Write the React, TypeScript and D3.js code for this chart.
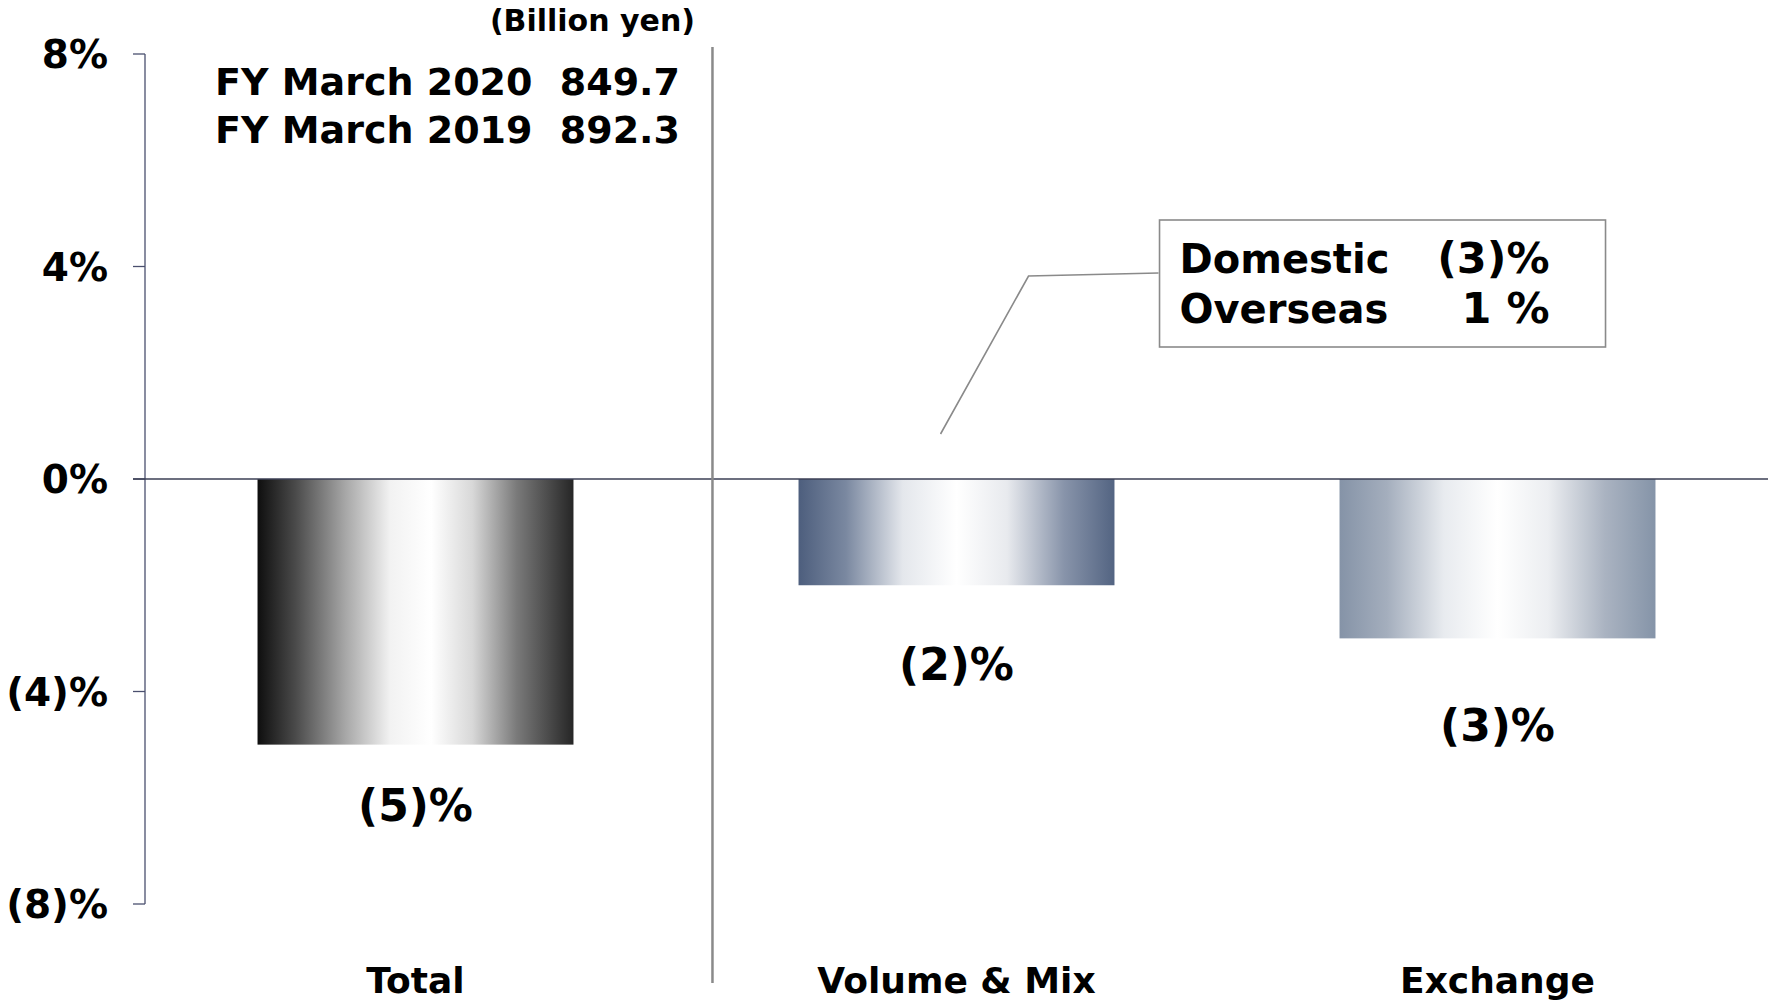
import React from "react";
import * as d3 from "d3";

const categories = ["Total", "Volume & Mix", "Exchange"];
const values = [-5, -2, -3];
const valueLabels = ["(5)%", "(2)%", "(3)%"];
const yTicks = [-8, -4, 0, 4, 8];
const headerLines = [
  ["FY March 2020", "849.7"],
  ["FY March 2019", "892.3"],
];
const unitLabel = "(Billion yen)";
const calloutRows = [
  ["Domestic", "(3)%"],
  ["Overseas", "1 %"],
];

const W = 1771;
const H = 1003;
const FONT = "'DejaVu Sans', Verdana, sans-serif";

const gradients = [
  { id: "gTotal", stops: [["0%", "#0e0e0e"], ["12%", "#4a4a4a"], ["28%", "#a8a8a8"], ["42%", "#f2f2f2"], ["55%", "#ffffff"], ["68%", "#d8d8d8"], ["82%", "#7a7a7a"], ["100%", "#262626"]] },
  { id: "gVol", stops: [["0%", "#4d5e7d"], ["15%", "#7a88a0"], ["33%", "#e4e7ec"], ["50%", "#ffffff"], ["66%", "#e8eaee"], ["84%", "#8894aa"], ["100%", "#536482"]] },
  { id: "gExc", stops: [["0%", "#8593a7"], ["15%", "#a4aebd"], ["33%", "#e8ebef"], ["50%", "#ffffff"], ["66%", "#eceef1"], ["84%", "#aab3c1"], ["100%", "#8594a8"]] },
];
const labelOffsets = [76, 95, 103];

export default function App() {
  const x = d3.scaleBand<string>().domain(categories).range([145, 1768]).paddingInner(0.416).paddingOuter(0.208);
  const y = d3.scaleLinear().domain([-8, 8]).range([904, 54]);
  const fmt = (v: number) => (v < 0 ? `(${-v})%` : `${v}%`);
  const sepX = (x("Total") as number) + x.bandwidth() + 139;
  const vx = (x("Volume & Mix") as number);
  const ex = (x("Exchange") as number);

  return (
    <svg width={W} height={H} style={{ position: "absolute", left: 0, top: 0, background: "#fff" }} fontFamily={FONT}>
      <defs>
        {gradients.map((g) => (
          <linearGradient key={g.id} id={g.id} x1="0" x2="1" y1="0" y2="0">
            {g.stops.map(([o, c]) => (
              <stop key={o} offset={o} stopColor={c} />
            ))}
          </linearGradient>
        ))}
      </defs>

      {/* y axis */}
      <line x1={145} x2={145} y1={y(8)} y2={y(-8)} stroke="#4a4f6e" strokeWidth={1.3} />
      {yTicks.map((t) => (
        <g key={t}>
          <line x1={133} x2={145} y1={y(t)} y2={y(t)} stroke="#4a4f6e" strokeWidth={1.3} />
          <text x={108} y={y(t)} dy="0.36em" textAnchor="end" fontSize={39} fontWeight="bold" fill="#000">
            {fmt(t)}
          </text>
        </g>
      ))}

      {/* bars */}
      {categories.map((c, i) => (
        <rect
          key={c}
          x={x(c)}
          y={y(Math.max(0, values[i]))}
          width={x.bandwidth()}
          height={Math.abs(y(values[i]) - y(0))}
          fill={`url(#${gradients[i].id})`}
        />
      ))}

      {/* zero line */}
      <line x1={133} x2={1768} y1={y(0)} y2={y(0)} stroke="#3b3f55" strokeWidth={1.4} />

      {/* separator */}
      <line x1={sepX} x2={sepX} y1={47} y2={983} stroke="#8a8a8a" strokeWidth={2.5} />

      {/* value labels */}
      {categories.map((c, i) => (
        <text
          key={c}
          x={(x(c) as number) + x.bandwidth() / 2}
          y={y(values[i]) + labelOffsets[i]}
          textAnchor="middle"
          fontSize={44}
          fontWeight="bold"
        >
          {valueLabels[i]}
        </text>
      ))}

      {/* category labels */}
      {categories.map((c) => (
        <text key={c} x={(x(c) as number) + x.bandwidth() / 2} y={993} textAnchor="middle" fontSize={36} fontWeight="bold">
          {c}
        </text>
      ))}

      {/* header */}
      <text x={695} y={31} textAnchor="end" fontSize={30} fontWeight="bold">
        {unitLabel}
      </text>
      {headerLines.map(([a, b], i) => (
        <g key={a}>
          <text x={215} y={95 + i * 47.5} fontSize={38} fontWeight="bold">{a}</text>
          <text x={680} y={95 + i * 47.5} textAnchor="end" fontSize={38} fontWeight="bold">{b}</text>
        </g>
      ))}

      {/* callout */}
      <polyline
        points={`${vx + 142},434 ${vx + 230},276 ${vx + 360},273`}
        fill="none"
        stroke="#8a8a8a"
        strokeWidth={1.6}
      />
      <rect x={ex - 180} y={220} width={446} height={127} fill="#fff" stroke="#8a8a8a" strokeWidth={1.6} />
      {calloutRows.map(([a, b], i) => (
        <g key={a}>
          <text x={ex - 160} y={273 + i * 50} fontSize={40} fontWeight="bold">{a}</text>
          <text x={ex + 210} y={273 + i * 50} textAnchor="end" fontSize={43} fontWeight="bold">{b}</text>
        </g>
      ))}
    </svg>
  );
}
